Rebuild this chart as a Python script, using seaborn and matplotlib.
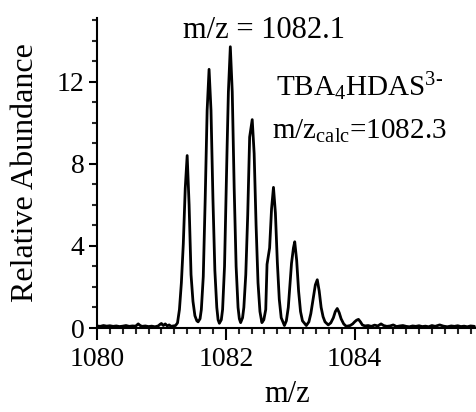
import matplotlib
matplotlib.use("Agg")
import matplotlib.pyplot as plt
import seaborn as sns
import pandas as pd
from matplotlib.ticker import MultipleLocator

# m/z trace
mz = [
    1080.00, 1080.05, 1080.10, 1080.15, 1080.20, 1080.25, 1080.30, 1080.35, 1080.40, 1080.45,
    1080.50, 1080.55, 1080.60, 1080.64, 1080.67, 1080.70, 1080.75, 1080.80, 1080.85, 1080.90,
    1080.95, 1080.98, 1081.00, 1081.03, 1081.06, 1081.09, 1081.12, 1081.15, 1081.19, 1081.22,
    1081.25, 1081.28, 1081.31, 1081.34, 1081.37, 1081.40, 1081.43, 1081.46, 1081.49, 1081.52,
    1081.55, 1081.57, 1081.60, 1081.62, 1081.65, 1081.68, 1081.71, 1081.74, 1081.77, 1081.80,
    1081.83, 1081.86, 1081.88, 1081.90, 1081.93, 1081.95, 1081.98, 1082.01, 1082.02, 1082.04,
    1082.07, 1082.10, 1082.13, 1082.16, 1082.19, 1082.21, 1082.23, 1082.26, 1082.28, 1082.31,
    1082.34, 1082.37, 1082.41, 1082.44, 1082.47, 1082.50, 1082.53, 1082.56, 1082.59, 1082.62,
    1082.64, 1082.68, 1082.71, 1082.74, 1082.77, 1082.80, 1082.83, 1082.86, 1082.91, 1082.94,
    1082.97, 1083.00, 1083.02, 1083.05, 1083.07, 1083.10, 1083.13, 1083.16, 1083.19, 1083.25,
    1083.29, 1083.32, 1083.35, 1083.37, 1083.39, 1083.42, 1083.45, 1083.48, 1083.51, 1083.54,
    1083.59, 1083.63, 1083.67, 1083.70, 1083.73, 1083.76, 1083.79, 1083.83, 1083.87, 1083.93,
    1083.97, 1084.00, 1084.03, 1084.06, 1084.09, 1084.12, 1084.16, 1084.21, 1084.26, 1084.31,
    1084.36, 1084.41, 1084.45, 1084.50, 1084.55, 1084.60, 1084.65, 1084.70, 1084.75, 1084.80,
    1084.85, 1084.90, 1084.95, 1085.00, 1085.05, 1085.10, 1085.15, 1085.20, 1085.25, 1085.32,
    1085.38, 1085.44, 1085.50, 1085.55, 1085.60, 1085.65, 1085.70, 1085.75, 1085.80, 1085.86,
]
abundance = [
    0.10, 0.08, 0.12, 0.09, 0.11, 0.08, 0.10, 0.07, 0.09, 0.12,
    0.08, 0.10, 0.09, 0.20, 0.12, 0.08, 0.10, 0.07, 0.09, 0.06,
    0.10, 0.18, 0.22, 0.12, 0.20, 0.10, 0.15, 0.08, 0.10, 0.12,
    0.25, 0.90, 2.20, 4.10, 6.80, 8.40, 6.00, 2.60, 1.30, 0.60,
    0.35, 0.30, 0.45, 0.90, 2.50, 6.30, 10.60, 12.60, 10.60, 6.30,
    2.80, 1.00, 0.40, 0.23, 0.40, 0.90, 3.00, 7.50, 8.80, 11.50,
    13.70, 11.50, 6.80, 3.00, 1.00, 0.45, 0.26, 0.50, 1.00, 2.60,
    5.50, 9.30, 10.15, 8.50, 5.00, 2.20, 0.80, 0.26, 0.40, 0.90,
    3.10, 3.90, 5.80, 6.85, 5.60, 3.20, 1.40, 0.50, 0.12, 0.35,
    1.00, 2.30, 3.15, 3.90, 4.20, 3.30, 1.80, 0.80, 0.35, 0.12,
    0.30, 0.70, 1.30, 1.70, 2.10, 2.35, 1.80, 1.00, 0.55, 0.30,
    0.15, 0.25, 0.50, 0.80, 0.95, 0.75, 0.45, 0.20, 0.08, 0.12,
    0.20, 0.30, 0.38, 0.42, 0.30, 0.15, 0.10, 0.12, 0.08, 0.14,
    0.10, 0.20, 0.12, 0.08, 0.10, 0.15, 0.07, 0.10, 0.12, 0.08,
    0.06, 0.10, 0.08, 0.11, 0.07, 0.09, 0.06, 0.12, 0.08, 0.15,
    0.09, 0.06, 0.10, 0.08, 0.11, 0.07, 0.09, 0.06, 0.10, 0.08,
]

x_ticks = [1080, 1082, 1084]
y_ticks = [0, 4, 8, 12]
observed_label = "m/z = 1082.1"
species_label = r"TBA$_4$HDAS$^{3\text{-}}$"
calc_label = r"m/z$_{\mathrm{calc}}$=1082.3"

df = pd.DataFrame({"m/z": mz, "Relative Abundance": abundance})

sns.set_theme(style="ticks")
plt.rcParams["font.family"] = ["Liberation Serif", "DejaVu Serif"]
plt.rcParams["mathtext.fontset"] = "custom"
plt.rcParams["mathtext.rm"] = "Liberation Serif"
plt.rcParams["mathtext.it"] = "Liberation Serif:italic"
plt.rcParams["mathtext.bf"] = "Liberation Serif:bold"

fig = plt.figure(figsize=(4.77, 4.12), dpi=100)
ax = fig.add_axes([97 / 477, 84 / 412, 380 / 477, 310 / 412])

sns.lineplot(data=df, x="m/z", y="Relative Abundance", ax=ax, color="black",
             linewidth=2.0, sort=False, estimator=None)

ax.set_xlim(1080, 1085.9)
ax.set_ylim(0, 15.1)
ax.set_xticks(x_ticks)
ax.set_yticks(y_ticks)
ax.xaxis.set_minor_locator(MultipleLocator(0.2))
ax.yaxis.set_minor_locator(MultipleLocator(1))

for s in ["top", "right"]:
    ax.spines[s].set_visible(False)
for s in ["left", "bottom"]:
    ax.spines[s].set_linewidth(1.5)
    ax.spines[s].set_color("black")

ax.tick_params(axis="x", which="major", length=8.5, width=1.5, direction="out",
               labelsize=20, colors="black", pad=5)
ax.tick_params(axis="x", which="minor", length=4.5, width=1.5, direction="out")
ax.tick_params(axis="y", which="major", length=6, width=1.5, direction="out",
               labelsize=20, colors="black", pad=3)
ax.tick_params(axis="y", which="minor", length=3.5, width=1.5, direction="out")

ax.set_xlabel("m/z", fontsize=22, color="black", labelpad=6)
ax.set_ylabel("Relative Abundance", fontsize=23, color="black", labelpad=12)

ax.text(1082.6, 14.5, observed_label, fontsize=22, ha="center", va="center", color="black")
ax.text(1084.08, 11.75, species_label, fontsize=21, ha="center", va="center", color="black")
ax.text(1084.08, 9.6, calc_label, fontsize=21, ha="center", va="center", color="black")

fig.savefig("out.png", dpi=100)
